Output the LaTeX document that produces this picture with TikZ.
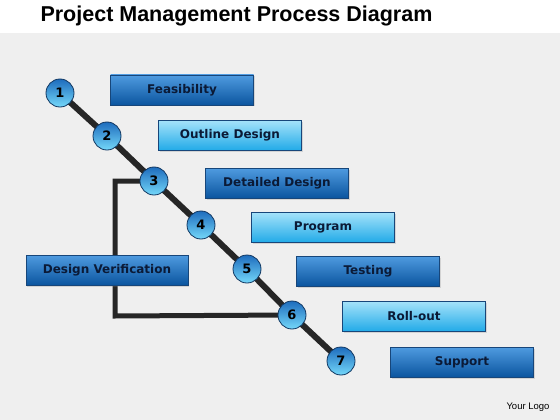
\documentclass[tikz,border=0pt]{standalone}
\usepackage{fontspec}
\setmainfont{Liberation Sans}
\newfontfamily\boxfont{DejaVu Sans}
\usepackage{tikz}
\usetikzlibrary{shapes,arrows.meta,positioning,calc,backgrounds,shadows}

\definecolor{bgGray}{HTML}{EFEFEF}
\definecolor{darkTop}{HTML}{4F9BE0}
\definecolor{darkBot}{HTML}{0B559F}
\definecolor{liteTop}{HTML}{A6E3FA}
\definecolor{liteBot}{HTML}{23ABE8}
\definecolor{edgeBlue}{HTML}{17467A}
\definecolor{txtNavy}{HTML}{0B1A36}
\definecolor{ballTop}{HTML}{1E6CBD}
\definecolor{ballBot}{HTML}{74D8FA}
\definecolor{trackGray}{HTML}{262626}

\begin{document}
\begin{tikzpicture}[
    x=1pt, y=-1pt,
    font=\boxfont\fontsize{12}{14}\selectfont\bfseries,
    step box/.style={rectangle, draw=edgeBlue, line width=0.9pt, minimum width=143pt, minimum height=30pt, text=txtNavy, drop shadow={opacity=0.25, shadow xshift=1pt, shadow yshift=-1.5pt}},
    dark box/.style={step box, top color=darkTop, bottom color=darkBot},
    lite box/.style={step box, top color=liteTop, bottom color=liteBot},
    ball/.style={circle, draw=edgeBlue!80!black, line width=0.8pt, top color=ballTop, bottom color=ballBot, minimum size=28pt, inner sep=0pt, font=\boxfont\fontsize{13}{15}\selectfont\bfseries, text=black},
    track/.style={draw=trackGray, line width=6pt},
    loop line/.style={draw=trackGray, line width=5pt}
]
    \useasboundingbox (0,0) rectangle (560,420);

    % --- Background ---
    \begin{scope}[on background layer]
        \fill[white] (0,0) rectangle (560,33);
        \fill[bgGray] (0,33) rectangle (560,420);
    \end{scope}

    % --- Title ---
    \node[anchor=west, font=\fontsize{21.5}{24}\selectfont\bfseries] (title) at (37,16) {Project Management Process Diagram};

    % --- Steps ---
    \node[ball] (n1) at (60,93) {1};
    \node[ball] (n2) at (107,136) {2};
    \node[ball] (n3) at (154,181) {3};
    \node[ball] (n4) at (201,225) {4};
    \node[ball] (n5) at (247,269) {5};
    \node[ball] (n6) at (292,315) {6};
    \node[ball] (n7) at (341,361) {7};

    \node[dark box] (b1) at (182,90) {Feasibility};
    \node[lite box] (b2) at (230,135) {Outline Design};
    \node[dark box] (b3) at (277,183) {Detailed Design};
    \node[lite box] (b4) at (323,227) {Program};
    \node[dark box] (b5) at (368,271) {Testing};
    \node[lite box] (b6) at (414,316) {Roll-out};
    \node[dark box] (b7) at (462,362) {Support};

    \node[dark box, minimum width=162pt] (verif) at (107,270) {Design Verification};

    % --- Tracks ---
    \coordinate (corner) at (115,316);
    \begin{scope}[on background layer]
        \draw[track] (n1.center) -- (n2.center) -- (n3.center) -- (n4.center)
            -- (n5.center) -- (n6.center) -- (n7.center);
        \draw[loop line] (n3.center) -| (corner) -- (n6.center);
    \end{scope}

    % --- Logo ---
    \node[font=\fontsize{9.5}{11}\selectfont, anchor=east] (logo) at (553,407) {Your Logo};

\end{tikzpicture}
\end{document}
